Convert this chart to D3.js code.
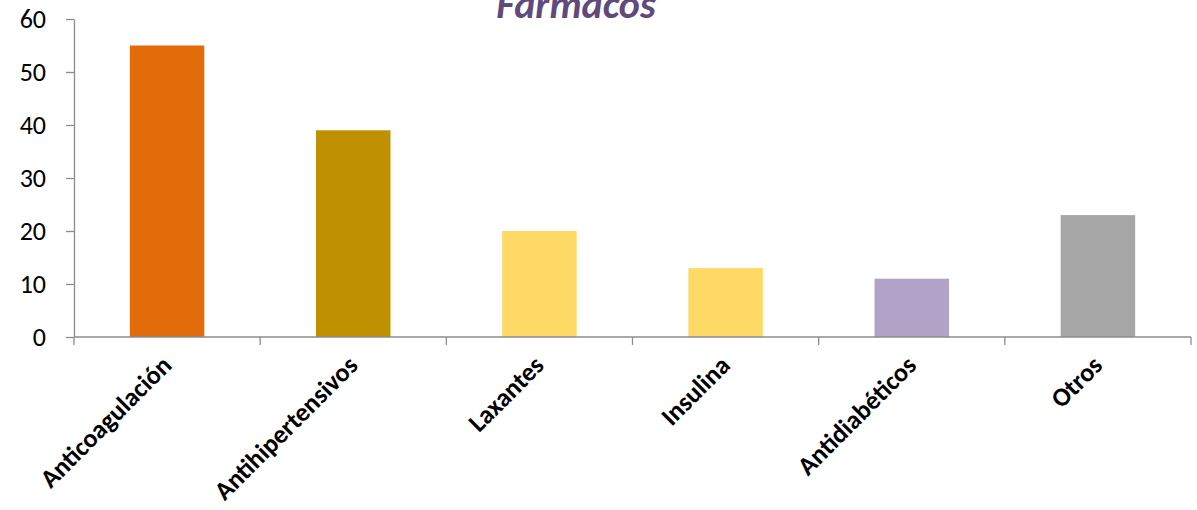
<!DOCTYPE html>
<html>
<head>
<meta charset="utf-8">
<script src="https://cdn.jsdelivr.net/npm/d3@7"></script>
<style>
  html, body { margin: 0; padding: 0; background: #fff; }
  svg { display: block; font-family: Carlito, Calibri, Lato, "Open Sans", sans-serif; }
</style>
</head>
<body>
<svg id="chart" width="1197" height="510"></svg>
<script>
// Drug groups and counts
const categories = ["Anticoagulación", "Antihipertensivos", "Laxantes", "Insulina", "Antidiabéticos", "Otros"];
const values = [55, 39, 20, 13, 11, 23];
const barColors = ["#E36C0A", "#BF9000", "#FFD966", "#FFD966", "#B2A2C7", "#A6A6A6"];
const yTicks = [0, 10, 20, 30, 40, 50, 60];
const title = "Fármacos";

const svg = d3.select("#chart");
const margin = { left: 74, right: 6, top: 19, bottom: 173 };
const W = 1197, H = 510;
const fontStack = "Carlito, Calibri, Lato, 'Open Sans', sans-serif";

const x = d3.scaleBand()
  .domain(categories)
  .range([margin.left, W - margin.right])
  .paddingInner(0.6)
  .paddingOuter(0.3);

const y = d3.scaleLinear()
  .domain([0, 60])
  .range([H - margin.bottom, margin.top]);

const axisColor = "#8c8c8c";

// Bars
svg.append("g").selectAll("rect")
  .data(categories)
  .join("rect")
  .attr("x", d => x(d))
  .attr("width", x.bandwidth())
  .attr("y", (d, i) => y(values[i]))
  .attr("height", (d, i) => y(0) - y(values[i]))
  .attr("fill", (d, i) => barColors[i]);

// Y axis
const yAxis = svg.append("g")
  .attr("transform", `translate(${margin.left},0)`)
  .call(d3.axisLeft(y).tickValues(yTicks).tickSize(8).tickPadding(20).tickSizeOuter(0));
yAxis.select(".domain").attr("stroke", axisColor).attr("stroke-width", 1.3);
yAxis.selectAll(".tick line").attr("stroke", axisColor).attr("stroke-width", 1.3);
yAxis.selectAll(".tick text")
  .attr("fill", "#000")
  .style("font-size", "26px")
  .style("font-family", fontStack);

// X axis: boundary ticks between categories
const bounds = d3.range(categories.length + 1).map(i => margin.left + i * ((W - margin.right - margin.left) / categories.length));
const xg = svg.append("g");
xg.append("line")
  .attr("x1", margin.left).attr("x2", W - margin.right)
  .attr("y1", y(0)).attr("y2", y(0))
  .attr("stroke", axisColor).attr("stroke-width", 1.3);
xg.selectAll("line.tk")
  .data(bounds)
  .join("line")
  .attr("class", "tk")
  .attr("x1", d => d).attr("x2", d => d)
  .attr("y1", y(0)).attr("y2", y(0) + 8)
  .attr("stroke", axisColor).attr("stroke-width", 1.3);

// Rotated category labels
xg.selectAll("text")
  .data(categories)
  .join("text")
  .attr("transform", d => `translate(${x(d) + x.bandwidth() / 2 + 6},${y(0) + 30}) rotate(-45)`)
  .attr("text-anchor", "end")
  .attr("fill", "#000")
  .style("font-size", "26px")
  .style("font-weight", "bold")
  .text(d => d);

// Title
svg.append("text")
  .attr("x", 576)
  .attr("y", 18)
  .attr("text-anchor", "middle")
  .attr("fill", "#604A7B")
  .style("font-size", "40px")
  .style("font-weight", "bold")
  .style("font-style", "italic")
  .text(title);
</script>
</body>
</html>
